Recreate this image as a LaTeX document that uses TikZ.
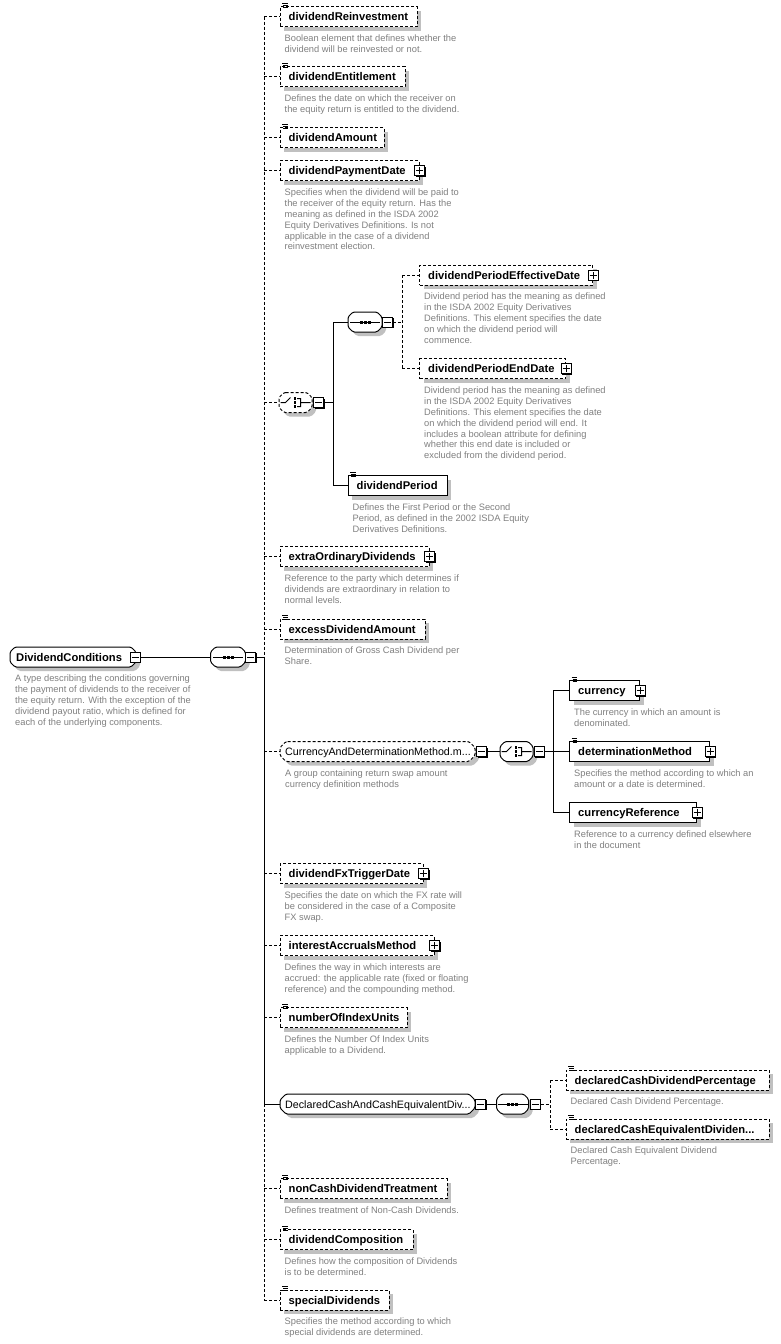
\documentclass[tikz,border=0pt]{standalone}
\usepackage{fontspec}
\setmainfont{Liberation Sans}
\usetikzlibrary{shadows,calc}
\definecolor{descgray}{RGB}{128,128,128}
\definecolor{shadowgray}{RGB}{192,192,192}
\tikzset{
  shd/.style={drop shadow={shadow xshift=4pt, shadow yshift=-4pt, fill=shadowgray, opacity=1}},
  conn/.style={line width=1pt},
  opt/.style={dash pattern=on 3pt off 2pt},
  elbox/.style={draw, line width=1pt, fill=white, minimum height=20pt, inner sep=0pt, anchor=west, shd},
  octo/.style={rectangle, minimum height=20pt, inner sep=0pt, outer sep=0pt},
  nametext/.style={anchor=west, inner sep=0pt, font=\fontsize{11.2}{13}\selectfont\bfseries, text height=8pt, text depth=0pt},
  gtext/.style={anchor=west, inner sep=0pt, font=\fontsize{10.7}{13}\selectfont, text height=8pt, text depth=0pt},
  desc/.style={anchor=north west, inner sep=0pt, align=left, font=\fontsize{9.3}{10.9}\selectfont, text=descgray},
  pmbase/.style={draw, fill=white, line width=1pt, minimum size=10pt, inner sep=0pt, drop shadow={shadow xshift=1pt, shadow yshift=-1pt, fill=black, opacity=1}},
  minusbox/.style={pmbase, path picture={\draw[line width=1pt] ([xshift=-3.5pt]path picture bounding box.center) -- ([xshift=3.5pt]path picture bounding box.center);}},
  plusbox/.style={pmbase, path picture={\draw[line width=1pt] ([xshift=-3.5pt]path picture bounding box.center) -- ([xshift=3.5pt]path picture bounding box.center) ([yshift=-3.5pt]path picture bounding box.center) -- ([yshift=3.5pt]path picture bounding box.center);}},
  scicon/.pic={\draw[line width=0.9pt] (2.5,-3) -- (8,-3) (3.5,-1) -- (8,-1) (3.5,1) -- (8,1);},
  seqicon/.pic={\draw[line width=1pt] (-15,0) -- (15,0); \foreach \i in {-4,0,4} {\fill (\i-1.5,-1.5) rectangle (\i+1.5,1.5);}},
  choiceicon/.pic={\draw[line width=1pt] (-15,0) -- (-10,0) -- (-5,-5) (1.5,-4) -- (5,-4) -- (5,4) -- (1.5,4) (5,0) -- (15,0);
     \foreach \j in {-4,0,4} {\fill (-1.7,\j-1.2) rectangle (0.7,\j+1.2);}},
}
\newcommand\xOctPath[3]{($(#1.north west)+(#2+#3,#3)$) -- ($(#1.north east)+(-#2+#3,#3)$) -- ($(#1.north east)+(#3,#2+#3)$) -- ($(#1.south east)+(#3,-#2+#3)$) -- ($(#1.south east)+(-#2+#3,#3)$) -- ($(#1.south west)+(#2+#3,#3)$) -- ($(#1.south west)+(#3,-#2+#3)$) -- ($(#1.north west)+(#3,#2+#3)$) -- cycle}
\newcommand\xOct[3]{\fill[shadowgray,rounded corners=1.5pt] \xOctPath{#1}{#3}{4};
  \draw[conn,fill=white,rounded corners=1.5pt,#2] \xOctPath{#1}{#3}{0};}
\newcommand\xEl[5]{\node[elbox,#5,minimum width=#4pt] (#1) at (#2) {};
  \node[nametext] (#1t) at ([xshift=9pt]#1.west) {#3};}
\newcommand\xDs[2]{\node[desc] (#1d) at ([xshift=5pt,yshift=-18pt]#1.west) {#2};}
\newcommand\xIc[1]{\pic at (#1.north west) {scicon};}
\newcommand\xPl[1]{\node[plusbox] (#1p) at (#1.east) {};}
\begin{document}
\begin{tikzpicture}[x=1pt,y=-1pt]
\fill[white] (0,0) rectangle (781,1344);
\useasboundingbox (0,0) rectangle (781,1344);
\coordinate (vx) at (264,0);
\coordinate (vxb) at (333,0);
\coordinate (vxc) at (402,0);
\coordinate (vxd) at (553,0);
\coordinate (vxe) at (550,0);

% root
\node[octo, minimum width=126pt, anchor=west] (root) at (10,657) {};
\xOct{root}{}{5}
\node[nametext] (roott) at ([xshift=6pt]root.west) {DividendConditions};
\node[minusbox] (rootm) at (135,657) {};
\xDs{root}{A type describing the conditions governing\\the payment of dividends to the receiver of\\the equity return. With the exception of the\\dividend payout ratio, which is defined for\\each of the underlying components.}
\node[octo, minimum width=35pt] (seqa) at (228,657) {};
\xOct{seqa}{}{5}
\pic at (seqa.center) {seqicon};
\node[minusbox] (seqam) at (250.5,657) {};

% main children
\xEl{e1}{279.5,16.5}{dividendReinvestment}{137}{opt}\xIc{e1}
\xDs{e1}{Boolean element that defines whether the\\dividend will be reinvested or not.}
\xEl{e2}{279.5,76.5}{dividendEntitlement}{125}{opt}\xIc{e2}
\xDs{e2}{Defines the date on which the receiver on\\the equity return is entitled to the dividend.}
\xEl{e3}{279.5,137.5}{dividendAmount}{104}{opt}\xIc{e3}
\xEl{e4}{279.5,170.5}{dividendPaymentDate}{139}{opt}\xPl{e4}
\xDs{e4}{Specifies when the dividend will be paid to\\the receiver of the equity return. Has the\\meaning as defined in the ISDA 2002\\Equity Derivatives Definitions. Is not\\applicable in the case of a dividend\\reinvestment election.}

% choice dividend period
\node[octo, minimum width=33pt] (cha) at (295.5,402.5) {};
\xOct{cha}{opt}{5}
\pic at (cha.center) {choiceicon};
\node[minusbox] (cham) at (318.5,402.5) {};
\node[octo, minimum width=34pt] (seqb) at (365,322) {};
\xOct{seqb}{}{5}
\pic at (seqb.center) {seqicon};
\node[minusbox] (seqbm) at (387.5,322) {};
\xEl{e5}{419,275}{dividendPeriodEffectiveDate}{173}{opt}\xPl{e5}
\xDs{e5}{Dividend period has the meaning as defined\\in the ISDA 2002 Equity Derivatives\\Definitions. This element specifies the date\\on which the dividend period will\\commence.}
\xEl{e6}{419,368.5}{dividendPeriodEndDate}{146}{opt}\xPl{e6}
\xDs{e6}{Dividend period has the meaning as defined\\in the ISDA 2002 Equity Derivatives\\Definitions. This element specifies the date\\on which the dividend period will end. It\\includes a boolean attribute for defining\\whether this end date is included or\\excluded from the dividend period.}
\xEl{e7}{347.5,485.5}{dividendPeriod}{99}{}\xIc{e7}
\xDs{e7}{Defines the First Period or the Second\\Period, as defined in the 2002 ISDA Equity\\Derivatives Definitions.}

\xEl{e8}{279.5,556.5}{extraOrdinaryDividends}{149}{opt}\xPl{e8}
\xDs{e8}{Reference to the party which determines if\\dividends are extraordinary in relation to\\normal levels.}
\xEl{e9}{279.5,629}{excessDividendAmount}{145}{opt}\xIc{e9}
\xDs{e9}{Determination of Gross Cash Dividend per\\Share.}

% group currency
\node[octo, minimum width=195pt, anchor=west] (ga) at (280,751.5) {};
\xOct{ga}{opt}{6}
\node[gtext] (gat) at ([xshift=5pt]ga.west) {CurrencyAndDeterminationMethod.m...};
\node[minusbox] (gam) at (481.5,751.5) {};
\xDs{ga}{A group containing return swap amount\\currency definition methods}
\node[octo, minimum width=33pt] (chb) at (516.5,751.5) {};
\xOct{chb}{}{5}
\pic at (chb.center) {choiceicon};
\node[minusbox] (chbm) at (539,751.5) {};
\xEl{e11}{569,690.5}{currency}{70}{}\xIc{e11}\xPl{e11}
\xDs{e11}{The currency in which an amount is\\denominated.}
\xEl{e12}{569,751.5}{determinationMethod}{140}{}\xIc{e12}\xPl{e12}
\xDs{e12}{Specifies the method according to which an\\amount or a date is determined.}
\xEl{e13}{569,812.5}{currencyReference}{127}{}\xPl{e13}
\xDs{e13}{Reference to a currency defined elsewhere\\in the document}

\xEl{e14}{279.5,873.5}{dividendFxTriggerDate}{143}{opt}\xPl{e14}
\xDs{e14}{Specifies the date on which the FX rate will\\be considered in the case of a Composite\\FX swap.}
\xEl{e15}{279.5,945.5}{interestAccrualsMethod}{154}{opt}\xPl{e15}
\xDs{e15}{Defines the way in which interests are\\accrued: the applicable rate (fixed or floating\\reference) and the compounding method.}
\xEl{e16}{279.5,1017.5}{numberOfIndexUnits}{127}{opt}\xIc{e16}
\xDs{e16}{Defines the Number Of Index Units\\applicable to a Dividend.}

% group declared
\node[octo, minimum width=195pt, anchor=west] (gb) at (280,1104) {};
\xOct{gb}{}{6}
\node[gtext] (gbt) at ([xshift=5pt]gb.west) {DeclaredCashAndCashEquivalentDiv...};
\node[minusbox] (gbm) at (480.5,1104) {};
\node[octo, minimum width=32pt] (seqc) at (512.5,1104) {};
\xOct{seqc}{}{5}
\pic at (seqc.center) {seqicon};
\node[minusbox] (seqcm) at (535,1104) {};
\xEl{e18}{565.5,1080}{declaredCashDividendPercentage}{203}{opt}\xIc{e18}
\xDs{e18}{Declared Cash Dividend Percentage.}
\xEl{e19}{565.5,1129}{declaredCashEquivalentDividen...}{203}{opt}\xIc{e19}
\xDs{e19}{Declared Cash Equivalent Dividend\\Percentage.}

\xEl{e20}{279.5,1188.5}{nonCashDividendTreatment}{167}{opt}\xIc{e20}
\xDs{e20}{Defines treatment of Non-Cash Dividends.}
\xEl{e21}{279.5,1239.5}{dividendComposition}{133}{opt}\xIc{e21}
\xDs{e21}{Defines how the composition of Dividends\\is to be determined.}
\xEl{e22}{279.5,1300}{specialDividends}{109}{opt}\xIc{e22}
\xDs{e22}{Specifies the method according to which\\special dividends are determined.}

% connectors
\draw[conn] (rootm.east) -- (seqa.west);
\draw[conn] (seqam.east) -- (seqam.east -| vx);
\draw[conn,opt] (e1.west -| vx) -- (seqam.east -| vx);
\draw[conn] (seqam.east -| vx) -- (gb.west -| vx);
\draw[conn,opt] (gb.west -| vx) -- (e22.west -| vx);
\foreach \n in {e1,e2,e3,e4,cha,e8,e9,ga,e14,e15,e16,e20,e21,e22} {\draw[conn,opt] (\n.west -| vx) -- (\n.west);}
\draw[conn] (gb.west -| vx) -- (gb.west);

\draw[conn] (cham.east) -- (cham.east -| vxb);
\draw[conn] (seqb.west -| vxb) -- (e7.west -| vxb);
\draw[conn] (seqb.west -| vxb) -- (seqb.west);
\draw[conn] (e7.west -| vxb) -- (e7.west);
\draw[conn,opt] (seqbm.east) -- (seqbm.east -| vxc);
\draw[conn,opt] (e5.west -| vxc) -- (e6.west -| vxc);
\draw[conn,opt] (e5.west -| vxc) -- (e5.west);
\draw[conn,opt] (e6.west -| vxc) -- (e6.west);

\draw[conn] (gam.east) -- (chb.west);
\draw[conn] (chbm.east) -- (chbm.east -| vxd);
\draw[conn] (e11.west -| vxd) -- (e13.west -| vxd);
\foreach \n in {e11,e12,e13} {\draw[conn] (\n.west -| vxd) -- (\n.west);}

\draw[conn] (gbm.east) -- (seqc.west);
\draw[conn,opt] (seqcm.east) -- (seqcm.east -| vxe);
\draw[conn,opt] (e18.west -| vxe) -- (e19.west -| vxe);
\draw[conn,opt] (e18.west -| vxe) -- (e18.west);
\draw[conn,opt] (e19.west -| vxe) -- (e19.west);
\end{tikzpicture}
\end{document}
